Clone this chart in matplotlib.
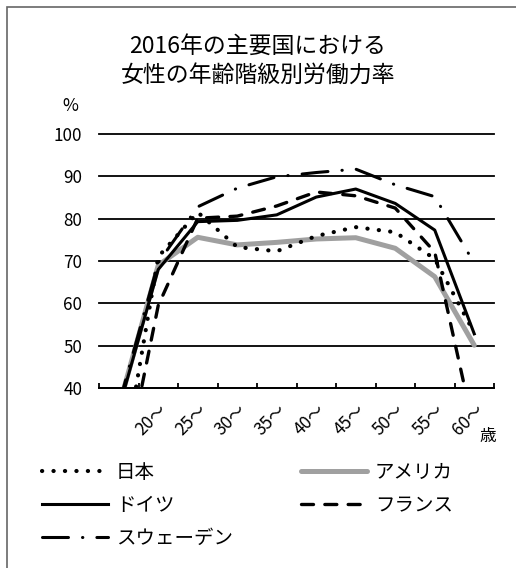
import matplotlib
matplotlib.use('Agg')
import matplotlib.pyplot as plt
from matplotlib.patches import Rectangle
from matplotlib.lines import Line2D

plt.rcParams['font.family'] = ['Noto Sans CJK JP', 'DejaVu Sans']

# 女性の年齢階級別労働力率 (2016年, %)
ages = ['15～', '20～', '25～', '30～', '35～', '40～', '45～', '50～', '55～', '60～']
japan = [16.3, 71.0, 81.5, 73.3, 72.3, 75.9, 78.0, 76.8, 70.5, 53.0]
usa = [35.5, 69.0, 75.6, 73.8, 74.4, 75.2, 75.5, 73.0, 66.3, 50.1]
germany = [35.0, 68.0, 79.3, 79.6, 80.9, 85.1, 87.0, 83.6, 77.3, 52.8]
france = [13.5, 59.5, 80.1, 80.6, 83.0, 86.3, 85.4, 82.5, 72.1, 30.0]
sweden = [36.0, 69.6, 82.8, 87.2, 89.9, 90.9, 91.7, 88.0, 85.2, 69.5]

names = ['日本', 'アメリカ', 'ドイツ', 'フランス', 'スウェーデン']
yticks = [40, 50, 60, 70, 80, 90, 100]

fig = plt.figure(figsize=(5.16, 5.68), dpi=100)
ax = fig.add_axes([99 / 516, 1 - 388 / 568, 395 / 516, 254 / 568])

x = list(range(len(ages)))
styles = {
    '日本': dict(color='black', lw=3.0, linestyle=(0, (0.05, 2.7)), dash_capstyle='round'),
    'アメリカ': dict(color='#a0a0a0', lw=3.6, solid_capstyle='round'),
    'ドイツ': dict(color='black', lw=2.2),
    'フランス': dict(color='black', lw=2.4, linestyle=(0, (3.6, 3.4)), dash_capstyle='round'),
    'スウェーデン': dict(color='black', lw=2.2, linestyle=(0, (8.5, 4.6, 0.1, 4.6)), dash_capstyle='round'),
}
series = {'日本': japan, 'アメリカ': usa, 'ドイツ': germany, 'フランス': france, 'スウェーデン': sweden}
for name in ['アメリカ', 'フランス', 'ドイツ', '日本', 'スウェーデン']:
    ax.plot(x, series[name], **styles[name])

ax.set_xlim(-0.5, len(ages) - 0.5)
ax.set_ylim(40, 100)
ax.set_yticks(yticks)
ax.tick_params(axis='y', length=0, pad=12, labelsize=12.3)
ax.yaxis.grid(True, color='black', lw=1.3)
for gl in ax.get_ygridlines():
    gl.set_clip_on(False)
ax.set_axisbelow(True)

# category boundaries get the tick marks, labels sit under the centres
ax.set_xticks([i - 0.5 for i in range(len(ages) + 1)], minor=True)
ax.set_xticks(x[1:])
ax.set_xticklabels(ages[1:], rotation=45, ha='right', va='top',
                   rotation_mode='anchor', fontsize=12.3)
ax.tick_params(axis='x', which='major', length=0, pad=9)
ax.tick_params(axis='x', which='minor', direction='in', length=3.8, width=1.3)
for s in ['top', 'left', 'right']:
    ax.spines[s].set_visible(False)
ax.spines['bottom'].set_linewidth(1.3)

fig.text(70 / 516, 1 - 106 / 568, '%', fontsize=12.5, ha='center', va='center')
fig.text(488 / 516, 1 - 437 / 568, '歳', fontsize=12, ha='center', va='center')
fig.text(0.5, 1 - 61 / 568, '2016年の主要国における\n女性の年齢階級別労働力率',
         fontsize=16.5, ha='center', va='center', linespacing=1.35)

def handle(name):
    return Line2D([], [], **styles[name])

leg_kw = dict(frameon=False, fontsize=14, handlelength=3.4, handletextpad=0.4,
              labelspacing=0.62, borderpad=0, borderaxespad=0, loc='upper left')
col1 = ['日本', 'ドイツ', 'スウェーデン']
col2 = ['アメリカ', 'フランス']
fig.legend([handle(n) for n in col1], col1, bbox_to_anchor=(42 / 516, 1 - 462 / 568), **leg_kw)
fig.legend([handle(n) for n in col2], col2, bbox_to_anchor=(301 / 516, 1 - 462 / 568), **leg_kw)

# outer frame (only left/top edges fall inside the canvas)
fig.patches.append(Rectangle((7 / 516, -0.1), 1.2, 1.1 - 7 / 568, fill=False,
                             edgecolor='#666666', lw=1.2, transform=fig.transFigure))

fig.savefig('out.png', dpi=100)
